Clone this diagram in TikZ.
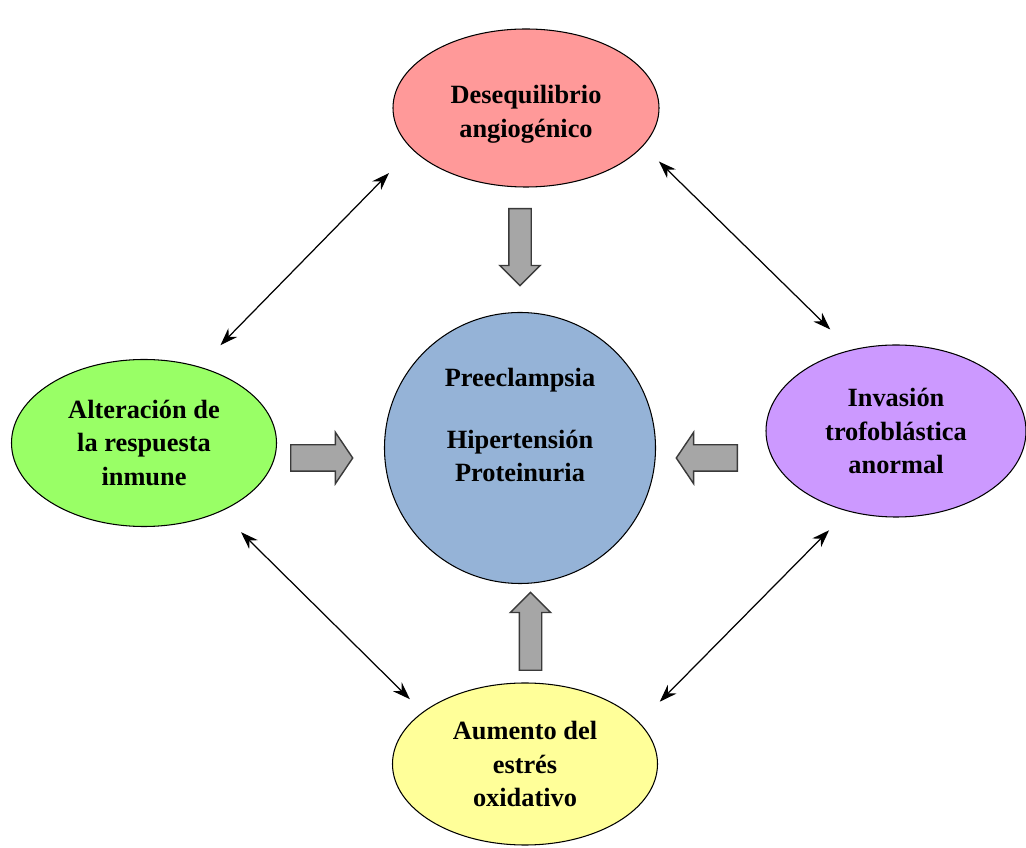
\documentclass[tikz,border=0pt]{standalone}
\usepackage{fontspec}
\setmainfont{Liberation Serif}
\usetikzlibrary{shapes.geometric,shapes.arrows,arrows.meta}

\definecolor{rosefill}{HTML}{FF9999}
\definecolor{bluefill}{HTML}{95B3D7}
\definecolor{greenfill}{HTML}{99FF66}
\definecolor{lilacfill}{HTML}{CC99FF}
\definecolor{yellowfill}{HTML}{FFFF99}
\definecolor{arrowgray}{HTML}{A6A6A6}
\definecolor{arrowedge}{HTML}{3A3A3A}

\begin{document}
\begin{tikzpicture}[
    factor/.style={draw, ellipse, line width=0.6pt, inner sep=0pt, align=center,
        font=\bfseries\fontsize{15}{19}\selectfont},
    link/.style={line width=0.7pt, {Stealth[length=10pt,width=7pt]}-{Stealth[length=10pt,width=7pt]}},
    vblock/.style={draw=arrowedge, fill=arrowgray, line width=0.8pt, single arrow, inner xsep=0pt,
        inner ysep=0.21cm, single arrow head extend=0.18cm, single arrow tip angle=90},
    hblock/.style={draw=arrowedge, fill=arrowgray, line width=0.8pt, single arrow, inner xsep=0pt,
        inner ysep=0.25cm, single arrow head extend=0.25cm, single arrow tip angle=112}
    ]
        \useasboundingbox (0,0) rectangle (20.52,16.94);

        % Centre
        \node[factor, circle, fill=bluefill, minimum size=5.42cm] (preeclampsia) at (10.40,7.98)
            {Preeclampsia\\[16pt]Hipertensión\\Proteinuria\\[7pt]\mbox{}};

        % Factors
        \node[factor, fill=rosefill, minimum width=5.32cm, minimum height=3.16cm] (angio) at (10.52,14.78)
            {\mbox{}\\[-1.5pt]Desequilibrio\\angiogénico};
        \node[factor, fill=greenfill, minimum width=5.30cm, minimum height=3.34cm] (inmune) at (2.88,8.08)
            {Alteración de\\la respuesta\\inmune};
        \node[factor, fill=lilacfill, minimum width=5.20cm, minimum height=3.44cm] (invasion) at (17.92,8.32)
            {Invasión\\trofoblástica\\anormal};
        \node[factor, fill=yellowfill, minimum width=5.30cm, minimum height=3.24cm] (oxidativo) at (10.50,1.66)
            {Aumento del\\estrés\\oxidativo};

        % Block arrows into the centre
        \node[vblock, rotate=-90, minimum height=1.54cm, anchor=tail] (fromangio) at (10.40,12.78) {};
        \node[vblock, rotate=90, minimum height=1.56cm, anchor=tail] (fromoxidativo) at (10.61,3.52) {};
        \node[hblock, minimum height=1.24cm, anchor=tail] (frominmune) at (5.80,7.78) {};
        \node[hblock, rotate=180, minimum height=1.22cm, anchor=tail] (frominvasion) at (14.76,7.78) {};

        % Links between factors
        \draw[link, shorten <=0.66cm, shorten >=0.60cm] (angio.200) -- (inmune.54);
        \draw[link, shorten <=0.44cm, shorten >=0.58cm] (angio.342) -- (invasion.119);
        \draw[link, shorten <=0.58cm, shorten >=0.36cm] (inmune.318) -- (oxidativo.153);
        \draw[link, shorten <=0.53cm, shorten >=0.58cm] (invasion.239) -- (oxidativo.20);
    \end{tikzpicture}
\end{document}
